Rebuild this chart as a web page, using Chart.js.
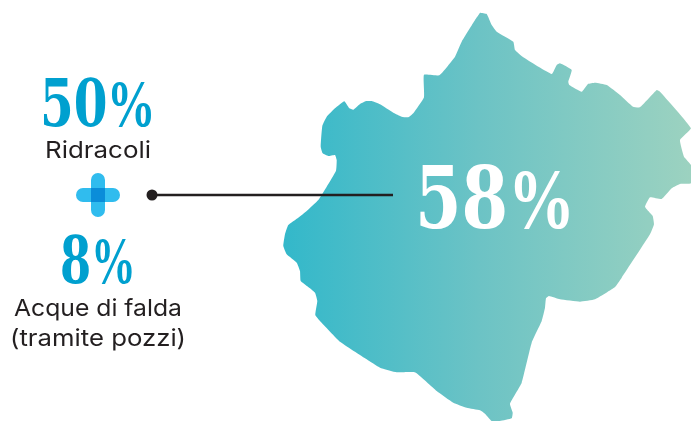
<!DOCTYPE html>
<html><head><meta charset="utf-8">
<style>html,body{margin:0;padding:0;background:#fff}canvas{display:block}
@font-face{font-family:Pct;font-weight:bold;src:local('Liberation Serif Bold');unicode-range:U+25;size-adjust:100%}
</style>
<script src="https://cdn.jsdelivr.net/npm/chart.js@4"></script>
</head><body>
<canvas id="c" width="691" height="421"></canvas>
<script>
const mapX=[480,475,461.7,455,448,439.3,424,424,413.3,408.3,401.7,393.3,380,371.7,366,360,353.3,349.3,344.3,335,326.7,322.3,320.7,322.7,328.3,335,336.7,336,326.7,318.3,306.7,298.3,288.3,285,283.3,286.7,296.7,300,300.7,308.3,315,317.3,315.3,320,340,366.7,380,396.7,415,436.7,453.3,466.7,480,485,491.7,500,511.7,512.7,510,521.7,531.7,541.7,545,546,549,560,580,595,615,621.7,650,654,652.7,648.3,645,650,661.7,671.7,680,691,691,684,680,691,660,656.7,640,633,620,606.7,595,588,581.7,569.3,568.3,571.7,560,556.7,551.7,523.3,515,513.3,496.7,491.7,486.7,480];
const mapY=[12.7,20,41.7,56.7,65.7,75.3,74.7,97.3,113.3,117.3,116.7,112.7,104.3,101,101,104,109.7,108.3,101.3,108.3,116.7,126,146.7,153.3,156,155,160,170.7,186.7,200,211,217.7,225,234.3,246,254.3,262.7,271,281,287,292.7,301,315,321,341.7,359.3,367.7,372.3,372.3,391,402.7,407.7,410.3,413.7,421,421,418.3,412.7,403.7,382.7,342.7,321,307.7,298.3,296,299.3,301.7,299.3,287,277.7,234.3,224.3,216,211,206.7,197.3,199,188.3,184,183.3,165,156.7,140,128.3,91.7,90,107.3,106.7,95,85,82.7,84,91.7,85,81.7,70,63.3,65,74,57.3,50,41.7,31.7,25,14,12.7];
const shareLabels=['50%','8%','58%'];
const sourceNames=['Ridracoli','Acque di falda','(tramite pozzi)'];
const leaderX=[152,393];
const leaderY=[195,195];
const plusCentre=[98,195];

const pts=(xs,ys)=>xs.map((x,i)=>({x,y:ys[i]}));
const mapGradient=c=>{
  const a=c.chart.chartArea, s=c.chart.scales.x, ctx=c.chart.ctx;
  if(!a||!s||!isFinite(s.getPixelForValue(283))) return '#6cc3c5';
  const g=ctx.createLinearGradient(s.getPixelForValue(283),0,s.getPixelForValue(691),0);
  g.addColorStop(0,'#33b8ca');g.addColorStop(.48,'#6cc3c5');g.addColorStop(1,'#9cd2c0');
  return g;
};
const numFont=s=>'bold '+s+'px Pct, "DejaVu Serif"';
const textItems=[
 {t:shareLabels[0],x:98,y:126,f:numFont(66),c:'#00a0cf',w:116},
 {t:sourceNames[0],x:98,y:158,f:'23.5px Inter',c:'#231f20',w:106},
 {t:shareLabels[1],x:98,y:283,f:numFont(66),c:'#00a0cf',w:76},
 {t:sourceNames[1],x:98,y:316,f:'23.5px Inter',c:'#231f20',w:168},
 {t:sourceNames[2],x:98,y:346,f:'23.5px Inter',c:'#231f20',w:176},
 {t:shareLabels[2],x:495,y:228,f:numFont(86),c:'#ffffff',w:160}
];
const textPlugin={id:'texts',afterDatasetsDraw(chart){
  const {ctx,scales:{x,y}}=chart;
  textItems.forEach(o=>{
    ctx.save();ctx.textAlign='center';ctx.textBaseline='alphabetic';
    ctx.font=o.f;ctx.fillStyle=o.c;
    const sx=o.w/ctx.measureText(o.t).width;
    ctx.translate(x.getPixelForValue(o.x),y.getPixelForValue(o.y));
    ctx.scale(sx,1);
    ctx.fillText(o.t,0,0);
    ctx.restore();
  });
}};
const [px,py]=plusCentre;
function build(){
new Chart(document.getElementById('c'),{
  type:'scatter',
  data:{datasets:[
    {data:[{x:px-7,y:py},{x:px+7,y:py}],showLine:true,borderColor:'#0a8dd9',borderWidth:14,pointRadius:0},
    {data:[{x:px,y:py-15},{x:px,y:py+15}],showLine:true,borderColor:'#30bcee',borderWidth:14,borderCapStyle:'round',pointRadius:0},
    {data:[{x:px-15,y:py},{x:px+15,y:py}],showLine:true,borderColor:'#30bcee',borderWidth:14,borderCapStyle:'round',pointRadius:0},
    {data:[{x:leaderX[0],y:leaderY[0]}],pointRadius:5.5,backgroundColor:'#231f20',borderWidth:0},
    {data:pts(leaderX,leaderY),showLine:true,borderColor:'#231f20',borderWidth:2.5,pointRadius:0},
    {data:pts(mapX,mapY),showLine:true,fill:'shape',tension:.12,borderWidth:0,pointRadius:0,backgroundColor:mapGradient}
  ]},
  options:{
    responsive:false,animation:false,
    layout:{padding:0,autoPadding:false},
    plugins:{legend:{display:false},tooltip:{enabled:false},title:{display:false}},
    scales:{
      x:{type:'linear',min:0,max:691,display:false},
      y:{type:'linear',min:0,max:421,reverse:true,display:false}
    }
  },
  plugins:[textPlugin]
});
}
document.fonts.load(numFont(66),'%').then(build,build);
</script>
</body></html>
